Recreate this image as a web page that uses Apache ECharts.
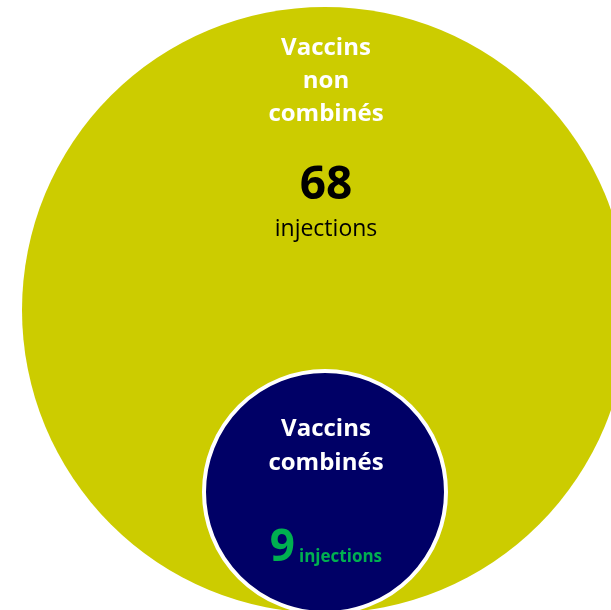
<!DOCTYPE html>
<html>
<head>
<meta charset="utf-8">
<script src="https://cdn.jsdelivr.net/npm/echarts@6/dist/echarts.min.js"></script>
<style>
  html, body { margin: 0; padding: 0; background: #ffffff; }
  #chart { width: 611px; height: 610px; }
</style>
</head>
<body>
<div id="chart"></div>
<script>
// Groups of vaccines and number of injections in each
const groupNames = ['Vaccins\nnon\ncombinés', 'Vaccins\ncombinés'];
const injectionCounts = [68, 9];
const unitLabel = 'injections';

const FONT = '"Open Sans", Lato, sans-serif';
const OLIVE = '#CCCC00';
const NAVY = '#000066';
const GREEN = '#00B050';

const chart = echarts.init(document.getElementById('chart'), null, { renderer: 'canvas' });

const option = {
  animation: false,
  backgroundColor: '#ffffff',
  series: [
    {
      type: 'pie',
      silent: true,
      center: [325, 310],
      radius: [0, 303],
      label: { show: false },
      labelLine: { show: false },
      itemStyle: { color: OLIVE },
      data: [{ name: groupNames[0], value: injectionCounts[0] }]
    },
    {
      type: 'pie',
      silent: true,
      center: [325, 492],
      radius: [0, 121],
      label: { show: false },
      labelLine: { show: false },
      itemStyle: { color: NAVY, borderColor: '#ffffff', borderWidth: 4 },
      data: [{ name: groupNames[1], value: injectionCounts[1] }]
    }
  ],
  graphic: [
    {
      type: 'text', z: 10, silent: true,
      style: {
        text: groupNames[0], x: 326, y: 81, align: 'center', verticalAlign: 'middle',
        fontFamily: FONT, fontWeight: 'bold', fontSize: 24, lineHeight: 33, fill: '#ffffff'
      }
    },
    {
      type: 'text', z: 10, silent: true,
      style: {
        text: String(injectionCounts[0]), x: 326, y: 186, align: 'center', verticalAlign: 'middle',
        fontFamily: FONT, fontWeight: 'bold', fontSize: 46, fill: '#000000'
      }
    },
    {
      type: 'text', z: 10, silent: true,
      style: {
        text: unitLabel, x: 326, y: 229, align: 'center', verticalAlign: 'middle',
        fontFamily: FONT, fontWeight: 'normal', fontSize: 23, fill: '#000000'
      }
    },
    {
      type: 'text', z: 10, silent: true,
      style: {
        text: groupNames[1], x: 326, y: 446, align: 'center', verticalAlign: 'middle',
        fontFamily: FONT, fontWeight: 'bold', fontSize: 24, lineHeight: 34, fill: '#ffffff'
      }
    },
    {
      type: 'text', z: 10, silent: true,
      style: {
        text: String(injectionCounts[1]), x: 295, y: 548, align: 'right', verticalAlign: 'middle',
        fontFamily: FONT, fontWeight: 'bold', fontSize: 44, fill: GREEN
      }
    },
    {
      type: 'text', z: 10, silent: true,
      style: {
        text: unitLabel, x: 299, y: 557, align: 'left', verticalAlign: 'middle',
        fontFamily: FONT, fontWeight: 'bold', fontSize: 17, fill: GREEN
      }
    }
  ]
};

chart.setOption(option);
</script>
</body>
</html>
